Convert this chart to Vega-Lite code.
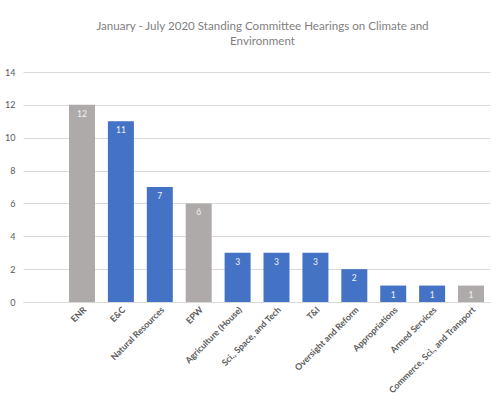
{
  "$schema": "https://vega.github.io/schema/vega-lite/v6.json",
  "autosize": {"type": "none"},
  "width": 467,
  "height": 230,
  "padding": {"left": 23, "top": 72, "right": 10, "bottom": 95},
  "background": "white",
  "title": {
    "text": ["January - July 2020 Standing Committee Hearings on Climate and", "Environment"],
    "font": "Lato",
    "fontSize": 11.6,
    "fontWeight": "normal",
    "color": "#7f7f7f",
    "anchor": "middle",
    "frame": "group",
    "dx": 6,
    "offset": 20,
    "lineHeight": 15
  },
  "data": {
    "values": [
      {"committee": "ENR", "hearings": 12, "chamber": "Senate"},
      {"committee": "E&C", "hearings": 11, "chamber": "House"},
      {"committee": "Natural Resources", "hearings": 7, "chamber": "House"},
      {"committee": "EPW", "hearings": 6, "chamber": "Senate"},
      {"committee": "Agriculture (House)", "hearings": 3, "chamber": "House"},
      {"committee": "Sci., Space, and Tech", "hearings": 3, "chamber": "House"},
      {"committee": "T&I", "hearings": 3, "chamber": "House"},
      {"committee": "Oversight and Reform", "hearings": 2, "chamber": "House"},
      {"committee": "Appropriations", "hearings": 1, "chamber": "House"},
      {"committee": "Armed Services", "hearings": 1, "chamber": "House"},
      {"committee": "Commerce, Sci., and Transport", "hearings": 1, "chamber": "Senate"}
    ]
  },
  "encoding": {
    "x": {
      "field": "committee",
      "type": "nominal",
      "sort": null,
      "scale": {"paddingInner": 0.332, "paddingOuter": 0.668, "align": 0.885},
      "axis": {
        "title": null,
        "labelAngle": -45,
        "labelAlign": "right",
        "labelBaseline": "top",
        "labelFont": "Lato",
        "labelFontSize": 8.8,
        "labelFontWeight": "bold",
        "labelColor": "#595959",
        "labelPadding": 3,
        "ticks": false,
        "domainColor": "#d9d9d9",
        "labelLimit": 200
      }
    },
    "y": {
      "field": "hearings",
      "type": "quantitative",
      "scale": {"domain": [0, 14]},
      "axis": {
        "title": null,
        "values": [0, 2, 4, 6, 8, 10, 12, 14],
        "domain": false,
        "ticks": false,
        "gridColor": "#d9d9d9",
        "labelFont": "Lato",
        "labelFontSize": 9,
        "labelColor": "#595959",
        "labelPadding": 8
      }
    }
  },
  "layer": [
    {
      "mark": {"type": "bar"},
      "encoding": {
        "color": {
          "field": "chamber",
          "type": "nominal",
          "scale": {"domain": ["Senate", "House"], "range": ["#aeaaaa", "#4472c4"]},
          "legend": null
        }
      }
    },
    {
      "mark": {"type": "text", "baseline": "top", "dy": 5, "font": "Lato", "fontSize": 8.5, "color": "#f2f2f2"},
      "encoding": {"text": {"field": "hearings", "type": "quantitative"}}
    }
  ],
  "config": {"view": {"stroke": null}}
}
